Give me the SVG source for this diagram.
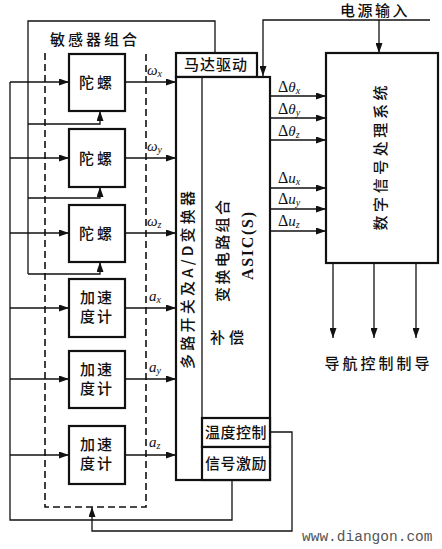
<svg xmlns="http://www.w3.org/2000/svg" width="442" height="549" viewBox="0 0 442 549">
<defs>
<marker id="ah" markerUnits="userSpaceOnUse" markerWidth="10" markerHeight="7" refX="10" refY="3.5" orient="auto">
<path d="M0,0 L10,3.5 L0,7 z" fill="#111"/>
</marker>
<style>
.box{fill:#fff;stroke:#111;stroke-width:2.2}
.ln{fill:none;stroke:#111;stroke-width:1.3}
.arr{fill:none;stroke:#111;stroke-width:1.3;marker-end:url(#ah)}
.dash{fill:none;stroke:#111;stroke-width:1.6;stroke-dasharray:7 4}
.cn{font-family:"Noto Sans CJK SC","Noto Sans CJK TC",sans-serif;font-size:15px;fill:#111;font-weight:500}
.gk{font-family:"Liberation Serif",serif;font-style:italic;font-size:15px;fill:#111}
.sb{font-size:10px}
.dl{font-family:"Liberation Serif",serif;font-size:16px;fill:#111}
.wm{font-family:"Liberation Mono",monospace;font-size:14.5px;fill:#555}
</style>
</defs>
<rect width="442" height="549" fill="#fff"/>
<g id="connectors">
<polyline class="ln" points="215,53 215,21 28,21 28,274"/>
<polyline class="arr" points="28,124 100,124 100,111"/>
<polyline class="arr" points="28,198 100,198 100,187"/>
<polyline class="arr" points="28,274 100,274 100,262"/>
<polyline class="ln" points="232,480 232,520 10,520 10,82"/>
<line class="arr" x1="10" y1="82" x2="69" y2="82"/>
<line class="arr" x1="10" y1="158" x2="69" y2="158"/>
<line class="arr" x1="10" y1="233" x2="69" y2="233"/>
<line class="arr" x1="10" y1="308" x2="69" y2="308"/>
<line class="arr" x1="10" y1="379" x2="69" y2="379"/>
<line class="arr" x1="10" y1="455" x2="69" y2="455"/>
<polyline class="arr" points="270,432 292,432 292,531 92,531 92,507"/>
<line class="arr" x1="125" y1="82" x2="176" y2="82"/>
<line class="arr" x1="125" y1="158" x2="176" y2="158"/>
<line class="arr" x1="125" y1="233" x2="176" y2="233"/>
<line class="arr" x1="125" y1="308" x2="176" y2="308"/>
<line class="arr" x1="125" y1="379" x2="176" y2="379"/>
<line class="arr" x1="125" y1="455" x2="176" y2="455"/>
<polyline class="arr" points="430,20 263,20 263,76"/>
<line class="arr" x1="379" y1="20" x2="379" y2="53"/>
<line class="arr" x1="270" y1="96" x2="326" y2="96"/>
<line class="arr" x1="270" y1="118" x2="326" y2="118"/>
<line class="arr" x1="270" y1="140" x2="326" y2="140"/>
<line class="arr" x1="270" y1="188" x2="326" y2="188"/>
<line class="arr" x1="270" y1="209" x2="326" y2="209"/>
<line class="arr" x1="270" y1="231" x2="326" y2="231"/>
<line class="arr" x1="333" y1="263" x2="333" y2="338"/>
<line class="arr" x1="374" y1="263" x2="374" y2="338"/>
<line class="arr" x1="416" y1="263" x2="416" y2="338"/>
</g>
<g id="sensor-group">
<polyline class="dash" points="45,53 45,507 146,507 146,53"/>
<text class="cn" x="50" y="45" textLength="87" lengthAdjust="spacing">敏感器组合</text>
</g>
<g id="gyro-x"><rect class="box" x="69" y="54" width="56" height="57"/><text class="cn" x="97" y="88" text-anchor="middle" letter-spacing="3">陀螺</text></g>
<g id="gyro-y"><rect class="box" x="69" y="129" width="56" height="58"/><text class="cn" x="97" y="164" text-anchor="middle" letter-spacing="3">陀螺</text></g>
<g id="gyro-z"><rect class="box" x="69" y="205" width="56" height="57"/><text class="cn" x="97" y="239" text-anchor="middle" letter-spacing="3">陀螺</text></g>
<g id="acc-x"><rect class="box" x="69" y="279" width="56" height="58"/><text class="cn" x="97" y="303" text-anchor="middle" letter-spacing="2">加速</text><text class="cn" x="97" y="322" text-anchor="middle" letter-spacing="2">度计</text></g>
<g id="acc-y"><rect class="box" x="69" y="351" width="56" height="57"/><text class="cn" x="97" y="375" text-anchor="middle" letter-spacing="2">加速</text><text class="cn" x="97" y="394" text-anchor="middle" letter-spacing="2">度计</text></g>
<g id="acc-z"><rect class="box" x="69" y="426" width="56" height="58"/><text class="cn" x="97" y="450" text-anchor="middle" letter-spacing="2">加速</text><text class="cn" x="97" y="469" text-anchor="middle" letter-spacing="2">度计</text></g>
<g id="sensor-labels">
<text class="gk" x="147" y="75">ω<tspan class="sb" dy="2">x</tspan></text>
<text class="gk" x="147" y="151">ω<tspan class="sb" dy="2">y</tspan></text>
<text class="gk" x="147" y="226">ω<tspan class="sb" dy="2">z</tspan></text>
<text class="gk" x="149" y="301">a<tspan class="sb" dy="2">x</tspan></text>
<text class="gk" x="149" y="372">a<tspan class="sb" dy="2">y</tspan></text>
<text class="gk" x="149" y="447">a<tspan class="sb" dy="2">z</tspan></text>
</g>
<g id="motor-drive"><rect class="box" x="176" y="53" width="81" height="24"/><text class="cn" x="216" y="70" text-anchor="middle" font-size="14" letter-spacing="1">马达驱动</text></g>
<g id="converter">
<rect class="box" x="176" y="77" width="94" height="403"/>
<line class="ln" x1="202" y1="77" x2="202" y2="480" stroke-width="2"/>
<text class="cn" transform="translate(193,280) rotate(-90)" text-anchor="middle" textLength="178" lengthAdjust="spacing">多路开关及A/D变换器</text>
<text class="cn" transform="translate(228,251) rotate(-90)" text-anchor="middle" textLength="102" lengthAdjust="spacing">变换电路组合</text>
<text class="dl" transform="translate(253,246) rotate(-90)" text-anchor="middle" font-weight="bold" font-size="15" textLength="68" lengthAdjust="spacing">ASIC(S)</text>
<text class="cn" x="229" y="343" text-anchor="middle" letter-spacing="4">补偿</text>
</g>
<g id="temp-control"><rect class="box" x="202" y="418" width="68" height="29"/><text class="cn" x="236" y="438" text-anchor="middle" font-size="14" letter-spacing="0.5">温度控制</text></g>
<g id="signal-excite"><rect class="box" x="202" y="447" width="68" height="33"/><text class="cn" x="236" y="469" text-anchor="middle" font-size="14" letter-spacing="0.5">信号激励</text></g>
<g id="output-labels">
<text class="dl" x="278" y="92">Δ<tspan class="gk" font-size="16">θ</tspan><tspan class="gk sb" dy="2">x</tspan></text>
<text class="dl" x="278" y="114">Δ<tspan class="gk" font-size="16">θ</tspan><tspan class="gk sb" dy="2">y</tspan></text>
<text class="dl" x="278" y="136">Δ<tspan class="gk" font-size="16">θ</tspan><tspan class="gk sb" dy="2">z</tspan></text>
<text class="dl" x="278" y="183">Δ<tspan class="gk" font-size="16">u</tspan><tspan class="gk sb" dy="2">x</tspan></text>
<text class="dl" x="278" y="204">Δ<tspan class="gk" font-size="16">u</tspan><tspan class="gk sb" dy="2">y</tspan></text>
<text class="dl" x="278" y="226">Δ<tspan class="gk" font-size="16">u</tspan><tspan class="gk sb" dy="2">z</tspan></text>
</g>
<g id="dsp"><rect class="box" x="326" y="53" width="112" height="210"/><text class="cn" transform="translate(386,158) rotate(-90)" text-anchor="middle" textLength="145" lengthAdjust="spacing">数字信号处理系统</text></g>
<g id="power-label"><text class="cn" x="375" y="16" text-anchor="middle" font-size="13" letter-spacing="2.5">电源输入</text></g>
<g id="nav-label"><text class="cn" x="377" y="369" text-anchor="middle" textLength="105" lengthAdjust="spacing">导航控制制导</text></g>
<text class="wm" x="302" y="541">www.diangon.com</text>
</svg>
